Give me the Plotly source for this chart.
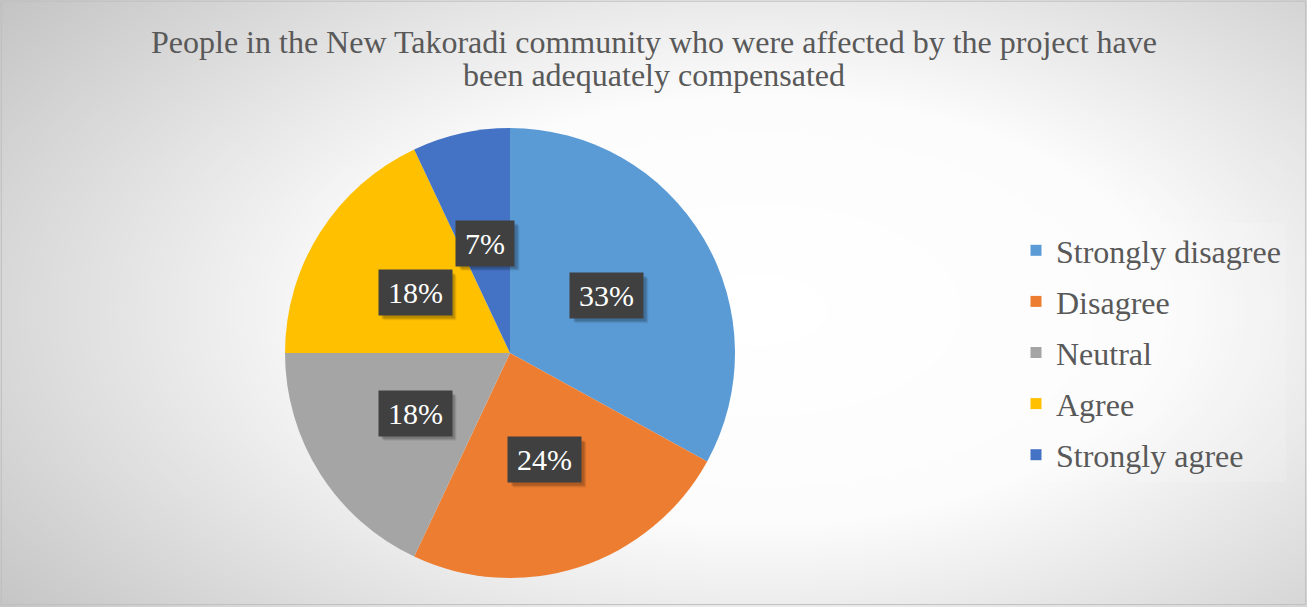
import numpy as np
import plotly.graph_objects as go

# ---- data ----
categories = ["Strongly disagree", "Disagree", "Neutral", "Agree", "Strongly agree"]
values = [33, 24, 18, 18, 7]
colors = ["#5B9BD5", "#ED7D31", "#A5A5A5", "#FFC000", "#4472C4"]
title_lines = ["People in the New Takoradi community who were affected by the project have",
               "been adequately compensated"]

W, H = 1307, 607
FONT = "Liberation Serif"

# pie placement (pixels)
cx, cy, R = 510, 353, 225
dom_x = [(cx - R) / W, (cx + R) / W]
dom_y = [(H - cy - R) / H, (H - cy + R) / H]

fig = go.Figure()

# ---- decorative radial background ----
gx = np.linspace(0, W, 140)
gy = np.linspace(0, H, 70)
X, Y = np.meshgrid(gx, gy)
D = np.sqrt(((X - 760) / 830.0) ** 2 + ((Y - 310) / 440.0) ** 2)
fig.add_trace(go.Heatmap(
    x=gx, y=gy, z=D, zmin=0, zmax=1.15, zsmooth="best",
    colorscale=[[0, "#ffffff"], [0.42, "#fcfcfc"], [1.0, "#c4c4c4"]],
    showscale=False, hoverinfo="skip", xaxis="x", yaxis="y", showlegend=False,
))

# ---- pie ----
fig.add_trace(go.Pie(
    labels=categories, values=values, sort=False, direction="clockwise",
    rotation=0, marker=dict(colors=colors, line=dict(width=0)),
    textinfo="none", domain=dict(x=dom_x, y=dom_y), showlegend=False,
    hoverinfo="label+percent",
))

# ---- legend proxies ----
for i, (c, col) in enumerate(zip(categories, colors)):
    fig.add_trace(go.Scatter(
        x=[None], y=[None], mode="markers", name=c, legendgroup=f"g{i}",
        marker=dict(symbol="square", size=11, color=col),
        xaxis="x", yaxis="y",
    ))

# ---- data labels computed from the values ----
LFS = 30
total = float(sum(values))
cum = 0.0
for v in values:
    mid = (cum + v / 2.0) / total * 2 * np.pi
    cum += v
    px = cx + 0.5 * R * np.sin(mid)
    py = cy - 0.5 * R * np.cos(mid)
    txt = f"{round(v / total * 100)}%"
    # soft shadow box behind the label
    bw = 0.5 * LFS * (len(txt) - 1) + 0.833 * LFS + 18
    bh = 45
    for off, alpha in ((5, 0.07), (4, 0.10), (3, 0.12)):
        fig.add_shape(type="rect", xref="paper", yref="paper",
                      x0=(px - bw / 2 + off) / W, x1=(px + bw / 2 + off) / W,
                      y0=(H - py - bh / 2 - off) / H, y1=(H - py + bh / 2 - off) / H,
                      fillcolor=f"rgba(0,0,0,{alpha})", line=dict(width=0), layer="above")
    fig.add_annotation(
        x=px / W, y=(H - py) / H, xref="paper", yref="paper",
        xanchor="center", yanchor="middle",
        text=txt, showarrow=False, font=dict(family=FONT, size=LFS, color="#ffffff"),
        bgcolor="#404040", borderpad=9, height=27,
    )

# ---- title (two lines, tight spacing as in the reference) ----
fig.add_annotation(x=0.5, y=(H - 42) / H, xref="paper", yref="paper",
                   xanchor="center", yanchor="middle", showarrow=False,
                   text=title_lines[0], font=dict(family=FONT, size=32, color="#595959"))
fig.add_annotation(x=0.5, y=(H - 75) / H, xref="paper", yref="paper",
                   xanchor="center", yanchor="middle", showarrow=False,
                   text=title_lines[1], font=dict(family=FONT, size=32, color="#595959"))

# outer border
fig.add_shape(type="rect", xref="paper", yref="paper", x0=0.001, y0=0.004, x1=0.999, y1=0.998,
              line=dict(color="#bfbfbf", width=1), layer="above")

fig.update_layout(
    width=W, height=H,
    margin=dict(l=0, r=0, t=0, b=0),
    paper_bgcolor="#ffffff", plot_bgcolor="rgba(0,0,0,0)",
    xaxis=dict(range=[0, W], domain=[0, 1], visible=False, fixedrange=True),
    yaxis=dict(range=[H, 0], domain=[0, 1], visible=False, fixedrange=True),
    legend=dict(x=1016 / W, xanchor="left", y=(H - 352.5) / H, yanchor="middle",
                font=dict(family=FONT, size=32, color="#595959"),
                bgcolor="rgba(255,255,255,0.15)", tracegroupgap=6.5,
                itemclick=False, itemdoubleclick=False),
    showlegend=True,
)

fig.write_html("out.html")
